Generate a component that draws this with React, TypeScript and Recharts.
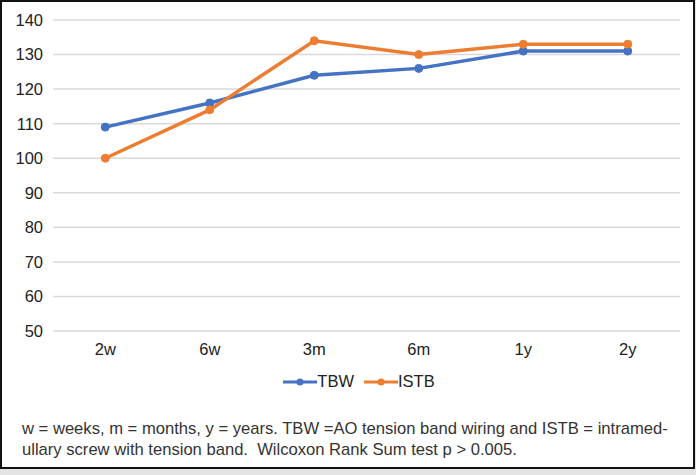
import React from "react";
import { LineChart, Line, XAxis, YAxis, CartesianGrid, Legend } from "recharts";

const categories = ["2w", "6w", "3m", "6m", "1y", "2y"];
const tbwValues = [109, 116, 124, 126, 131, 131];
const istbValues = [100, 114, 134, 130, 133, 133];
const yTicks = [50, 60, 70, 80, 90, 100, 110, 120, 130, 140];
const seriesNames = ["TBW", "ISTB"];
const colors = ["#4472C4", "#ED7D31"];
const footnote = [
  "w = weeks, m = months, y = years. TBW =AO tension band wiring and ISTB = intramed-",
  "ullary screw with tension band.  Wilcoxon Rank Sum test p > 0.005.",
];

const data = categories.map((c, i) => ({ cat: c, TBW: tbwValues[i], ISTB: istbValues[i] }));

const FONT = "'Liberation Sans', Arial, Helvetica, sans-serif";

const LegendContent = () => (
  <div style={{ display: "flex", justifyContent: "center", fontFamily: FONT, fontSize: 16.5, color: "#222", paddingLeft: 22 }}>
    {seriesNames.map((n, i) => (
      <div key={n} style={{ display: "flex", alignItems: "center", marginRight: i === 0 ? 10 : 0 }}>
        <svg width={34} height={10} style={{ display: "block" }}>
          <line x1={0} y1={5} x2={34} y2={5} stroke={colors[i]} strokeWidth={3} />
          <circle cx={17} cy={5} r={3.5} fill={colors[i]} />
        </svg>
        <span>{n}</span>
      </div>
    ))}
  </div>
);

export default function App() {
  return (
    <div style={{ position: "absolute", left: 0, top: 0, width: 696, height: 475, background: "#e4e4e4" }}>
      <div
        style={{
          position: "absolute",
          left: 0,
          top: 0,
          width: 691,
          height: 465,
          border: "2px solid #111",
          background: "#fff",
        }}
      >
        <div style={{ position: "absolute", left: -2, top: -2 }}>
          <LineChart width={696} height={400} data={data} margin={{ top: 20, right: 16, left: 3, bottom: 39 }}>
            <CartesianGrid vertical={false} stroke="#d9d9d9" strokeWidth={1.5} />
            <XAxis
              dataKey="cat"
              scale="band"
              axisLine={false}
              tickLine={false}
              height={30}
              tick={{ fill: "#222", fontSize: 16.5, fontFamily: FONT }}
              tickMargin={6}
            />
            <YAxis
              domain={[50, 140]}
              ticks={yTicks}
              axisLine={false}
              tickLine={false}
              width={50}
              tick={{ fill: "#222", fontSize: 16.5, fontFamily: FONT }}
              tickMargin={4}
              interval={0}
            />
            <Legend
              verticalAlign="middle"
              layout="horizontal"
              content={<LegendContent />}
              wrapperStyle={{ top: 372, left: 0, width: 696 }}
            />
            <Line
              dataKey="TBW"
              stroke={colors[0]}
              strokeWidth={3.5}
              dot={{ r: 4, fill: colors[0], stroke: colors[0], strokeWidth: 1 }}
              isAnimationActive={false}
            />
            <Line
              dataKey="ISTB"
              stroke={colors[1]}
              strokeWidth={3.5}
              dot={{ r: 4, fill: colors[1], stroke: colors[1], strokeWidth: 1 }}
              isAnimationActive={false}
            />
          </LineChart>
        </div>
        <div
          style={{
            position: "absolute",
            left: 20,
            top: 416,
            fontFamily: FONT,
            fontSize: 16.6,
            lineHeight: "21px",
            color: "#333",
            whiteSpace: "pre",
          }}
        >
          {footnote.map((l) => (
            <div key={l}>{l}</div>
          ))}
        </div>
      </div>
    </div>
  );
}
